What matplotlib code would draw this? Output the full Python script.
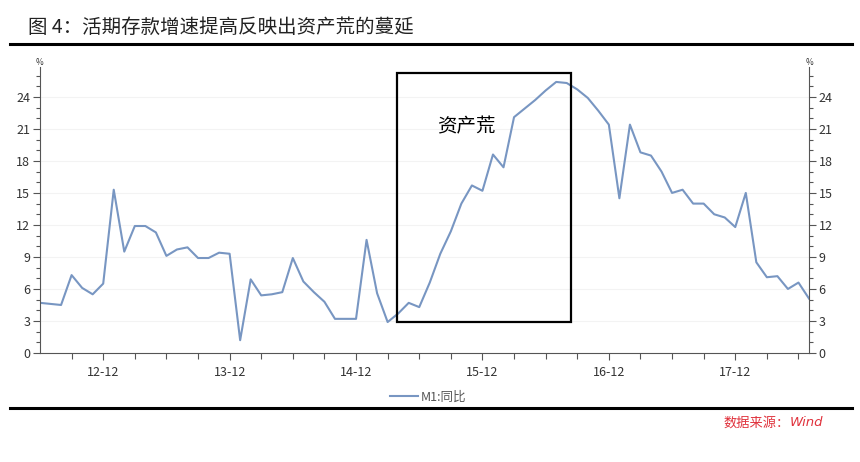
import matplotlib.pyplot as plt
from matplotlib.patches import Rectangle
from matplotlib.lines import Line2D

plt.rcParams['font.family'] = ['Noto Sans CJK SC', 'DejaVu Sans']

# M1 同比, 月度, 2012-06 .. 2018-07
m1 = [4.7, 4.6, 4.5, 7.3, 6.1, 5.5, 6.5,
      15.3, 9.5, 11.9, 11.9, 11.3, 9.1, 9.7, 9.9, 8.9, 8.9, 9.4, 9.3,
      1.2, 6.9, 5.4, 5.5, 5.7, 8.9, 6.7, 5.7, 4.8, 3.2, 3.2, 3.2,
      10.6, 5.6, 2.9, 3.7, 4.7, 4.3, 6.6, 9.3, 11.4, 14.0, 15.7, 15.2,
      18.6, 17.4, 22.1, 22.9, 23.7, 24.6, 25.4, 25.3, 24.7, 23.9, 22.7, 21.4,
      14.5, 21.4, 18.8, 18.5, 17.0, 15.0, 15.3, 14.0, 14.0, 13.0, 12.7, 11.8,
      15.0, 8.5, 7.1, 7.2, 6.0, 6.6, 5.1]
months = list(range(len(m1)))
tick_pos = [6, 18, 30, 42, 54, 66]
tick_labels = ['12-12', '13-12', '14-12', '15-12', '16-12', '17-12']
y_ticks = [0, 3, 6, 9, 12, 15, 18, 21, 24]

fig = plt.figure(figsize=(8.6, 4.62), dpi=100)
ax = fig.add_axes([40 / 860, 1 - 353 / 462, 769 / 860, 286 / 462])

ax.plot(months, m1, color='#7896c2', lw=1.5, label='M1:同比')
ax.set_xlim(0, len(m1) - 1)
ax.set_ylim(0, 26.8)

for y in y_ticks[1:]:
    ax.axhline(y, color='#f3f3f3', lw=0.8, zorder=0)

ax.set_xticks(tick_pos)
ax.set_xticklabels(tick_labels)
ax.set_xticks([m for m in range(3, len(m1), 3) if m not in tick_pos], minor=True)
ax.set_yticks(y_ticks)
ax.set_yticks([v for v in range(0, 27) if v % 3], minor=True)

ax.tick_params(axis='both', which='both', colors='#555555', labelcolor='#333333',
               labelsize=9, width=0.8)
ax.tick_params(axis='x', which='major', length=5, pad=4)
ax.tick_params(axis='x', which='minor', length=4)
ax.tick_params(axis='y', which='major', length=5, pad=2, right=True, labelright=True)
ax.tick_params(axis='y', which='minor', length=3, right=True)

for s in ['left', 'right', 'bottom']:
    ax.spines[s].set_color('#555555')
    ax.spines[s].set_linewidth(0.8)
ax.spines['top'].set_visible(False)

ax.text(0, 1.0, '%', transform=ax.transAxes, fontsize=6, color='#333333',
        ha='center', va='bottom')
ax.text(1, 1.0, '%', transform=ax.transAxes, fontsize=6, color='#333333',
        ha='center', va='bottom')

# 资产荒 区间
ax.add_patch(Rectangle((33.9, 2.9), 16.5, 23.3, fill=False, ec='black', lw=1.6,
                       clip_on=False, zorder=5))
ax.text(40.5, 21.2, '资产荒', fontsize=14, ha='center', va='center', color='black')

# 标题与分隔线
fig.text(28 / 860, 1 - 27 / 462, '图 4：活期存款增速提高反映出资产荒的蔓延',
         fontsize=14, va='center', ha='left', color='#222222')
fig.add_artist(Line2D([10 / 860, 852 / 860], [1 - 44 / 462, 1 - 44 / 462],
                      color='black', lw=2.2))
fig.add_artist(Line2D([10 / 860, 852 / 860], [1 - 408 / 462, 1 - 408 / 462],
                      color='black', lw=2.2))

ax.legend(loc='center', bbox_to_anchor=(428 / 860, 1 - 397 / 462),
          bbox_transform=fig.transFigure, frameon=False, fontsize=9,
          handlelength=2.2, handletextpad=0.2, labelcolor='#555555')

fig.text(790 / 860, 1 - 423 / 462, '数据来源：', fontsize=9.5, color='#e0323c',
         ha='right', va='center')
fig.text(790 / 860, 1 - 423 / 462, 'Wind', fontsize=9.5, color='#e0323c',
         family='DejaVu Sans', style='italic', ha='left', va='center')

fig.savefig('out.png', dpi=100, facecolor='white')
